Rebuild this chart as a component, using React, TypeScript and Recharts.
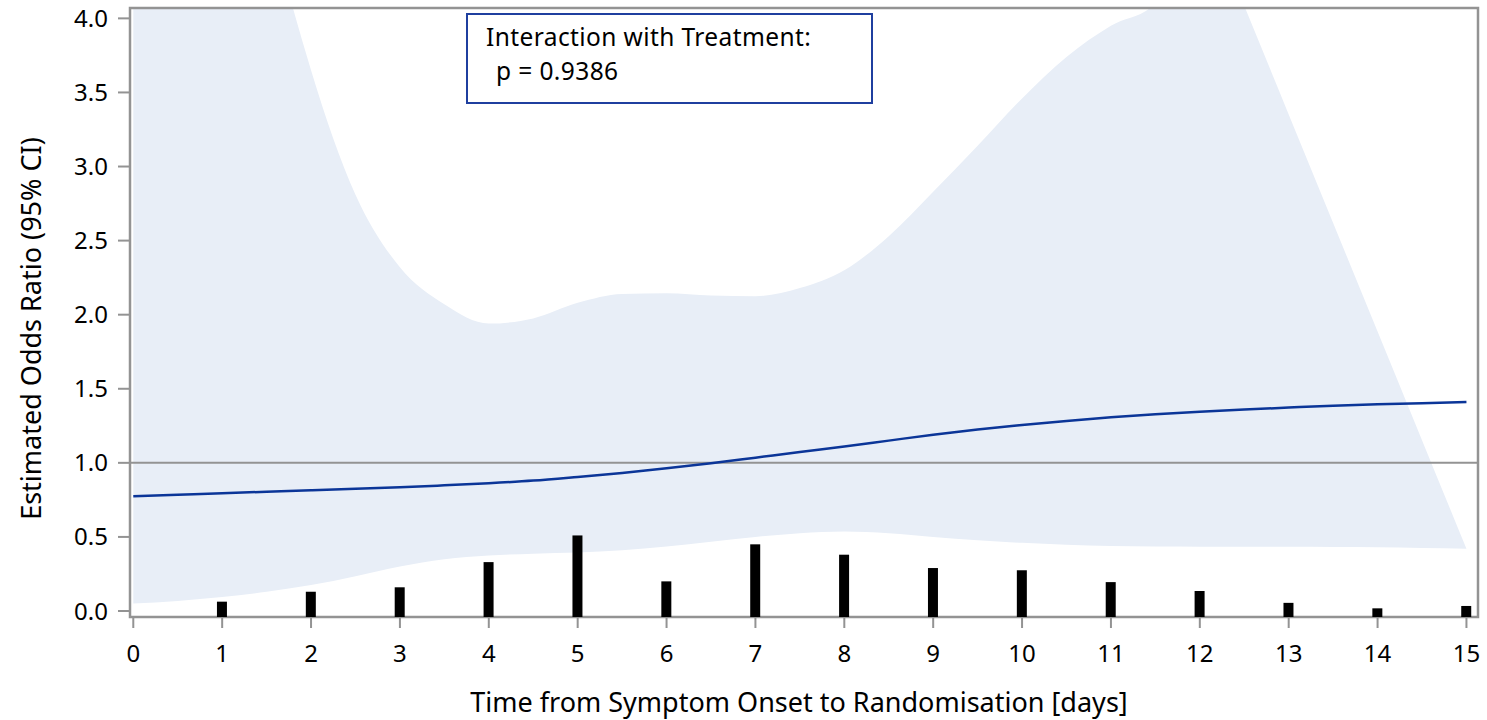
import React from 'react';
import {
  ComposedChart,
  Area,
  Line,
  Bar,
  XAxis,
  YAxis,
  ReferenceLine,
  ReferenceArea,
  Label,
} from 'recharts';

// sample points along the time axis (days)
const days = [
  0, 0.5, 1, 1.5, 2, 2.5, 3, 3.5, 4, 4.5, 5, 5.5, 6, 6.5, 7, 7.5, 8, 8.5, 9, 9.5, 10, 10.5,
  11, 11.5, 12, 12.5, 13, 13.5, 14, 14.5, 15,
];

// estimated odds ratio
const oddsRatio = [
  0.775, 0.785, 0.795, 0.805, 0.815, 0.825, 0.835, 0.848, 0.862, 0.88, 0.905, 0.932, 0.963,
  0.997, 1.035, 1.073, 1.11, 1.15, 1.19, 1.225, 1.255, 1.283, 1.307, 1.328, 1.345, 1.36,
  1.373, 1.385, 1.395, 1.403, 1.41,
];

// 95% CI lower bound
const ciLower = [
  0.05, 0.068, 0.094, 0.13, 0.175, 0.235, 0.3, 0.35, 0.375, 0.387, 0.395, 0.41, 0.435, 0.468,
  0.5, 0.525, 0.537, 0.525, 0.5, 0.478, 0.46, 0.447, 0.438, 0.435, 0.434, 0.434, 0.434, 0.432,
  0.43, 0.425, 0.42,
];

// 95% CI upper bound (runs off the top of the axis)
const ciUpper = [
  12, 9, 6.5, 4.8, 3.65, 2.81, 2.32, 2.07, 1.94, 1.975, 2.08, 2.14, 2.145, 2.13, 2.125, 2.18,
  2.3, 2.53, 2.83, 3.14, 3.46, 3.74, 3.95, 4.1, 4.818, 4.085, 3.352, 2.619, 1.886, 1.153, 0.42,
];

// distribution of patients by day (bar heights on the OR scale)
const barDays = [1, 2, 3, 4, 5, 6, 7, 8, 9, 10, 11, 12, 13, 14, 15];
const barHeights = [0.063, 0.13, 0.16, 0.33, 0.51, 0.2, 0.45, 0.38, 0.29, 0.275, 0.195, 0.135, 0.055, 0.018, 0.034];

const xTicks = [0, 1, 2, 3, 4, 5, 6, 7, 8, 9, 10, 11, 12, 13, 14, 15];
const yTicks = [0, 0.5, 1, 1.5, 2, 2.5, 3, 3.5, 4];

const X_MIN = -0.037;
const X_MAX = 15.13;
const Y_MIN = -0.0405;
const Y_MAX = 4.07;

const rows = days.map((d, i) => {
  const b = barDays.indexOf(d);
  return {
    day: d,
    or: oddsRatio[i],
    ci: [ciLower[i], ciUpper[i]],
    bar: b >= 0 ? [Y_MIN, barHeights[b]] : null,
  };
});

const FONT = '"Noto Sans", "Open Sans", sans-serif';
const GRAY = '#939393';

export default function App() {
  return (
    <div style={{ position: 'absolute', left: 0, top: 0, width: 1487, height: 720, background: '#fff' }}>
      <ComposedChart
        width={1487}
        height={720}
        data={rows}
        margin={{ top: 8, right: 9, left: 0, bottom: 0 }}
        style={{ fontFamily: FONT }}
      >
        <XAxis
          dataKey="day"
          type="number"
          domain={[X_MIN, X_MAX]}
          ticks={xTicks}
          allowDataOverflow
          height={103}
          axisLine={false}
          tickLine={{ stroke: GRAY, strokeWidth: 2 }}
          tickSize={11}
          tickMargin={17}
          tick={{ fontSize: 24, fill: '#000' }}
        >
          <Label
            value="Time from Symptom Onset to Randomisation [days]"
            position="insideBottom"
            offset={8}
            dx={-5}
            style={{ fontSize: 27, fill: '#000' }}
          />
        </XAxis>
        <YAxis
          type="number"
          domain={[Y_MIN, Y_MAX]}
          ticks={yTicks}
          allowDataOverflow
          width={130}
          axisLine={false}
          tickLine={{ stroke: GRAY, strokeWidth: 2 }}
          tickSize={12}
          tickMargin={10}
          tickFormatter={(v: number) => v.toFixed(1)}
          tick={{ fontSize: 24, fill: '#000' }}
        >
          <Label
            value="Estimated Odds Ratio (95% CI)"
            content={({ viewBox }: any) => {
              const cx = viewBox.x + 30;
              const cy = viewBox.y + viewBox.height / 2 + 16;
              return (
                <text
                  x={cx}
                  y={cy}
                  transform={`rotate(-90 ${cx} ${cy})`}
                  textAnchor="middle"
                  dominantBaseline="central"
                  style={{ fontSize: 27, fill: '#000', fontFamily: FONT }}
                >
                  Estimated Odds Ratio (95% CI)
                </text>
              );
            }}
          />
        </YAxis>
        <Area
          dataKey="ci"
          type="monotone"
          fill="#e8eef7"
          fillOpacity={1}
          stroke="none"
          isAnimationActive={false}
        />
        <ReferenceLine y={1} stroke={GRAY} strokeWidth={2} />
        <Bar dataKey="bar" barSize={10} fill="#000" isAnimationActive={false} />
        <Line
          dataKey="or"
          type="monotone"
          stroke="#0b3598"
          strokeWidth={2.5}
          dot={false}
          isAnimationActive={false}
        />
        <ReferenceArea
          x1={X_MIN}
          x2={X_MAX}
          y1={Y_MIN}
          y2={Y_MAX}
          fill="none"
          stroke={GRAY}
          strokeWidth={2.5}
          ifOverflow="visible"
        />
      </ComposedChart>
      <div
        style={{
          position: 'absolute',
          left: 466,
          top: 13,
          width: 407,
          height: 91,
          boxSizing: 'border-box',
          border: '2px solid #1f3f9f',
          background: '#fff',
          fontFamily: FONT,
          fontSize: 24.5,
          letterSpacing: 0.4,
          lineHeight: '33.5px',
          color: '#000',
          padding: '5px 0 0 18px',
          whiteSpace: 'pre',
        }}
      >
        <div>Interaction with Treatment:</div>
        <div style={{ marginLeft: 10 }}>p = 0.9386</div>
      </div>
    </div>
  );
}
